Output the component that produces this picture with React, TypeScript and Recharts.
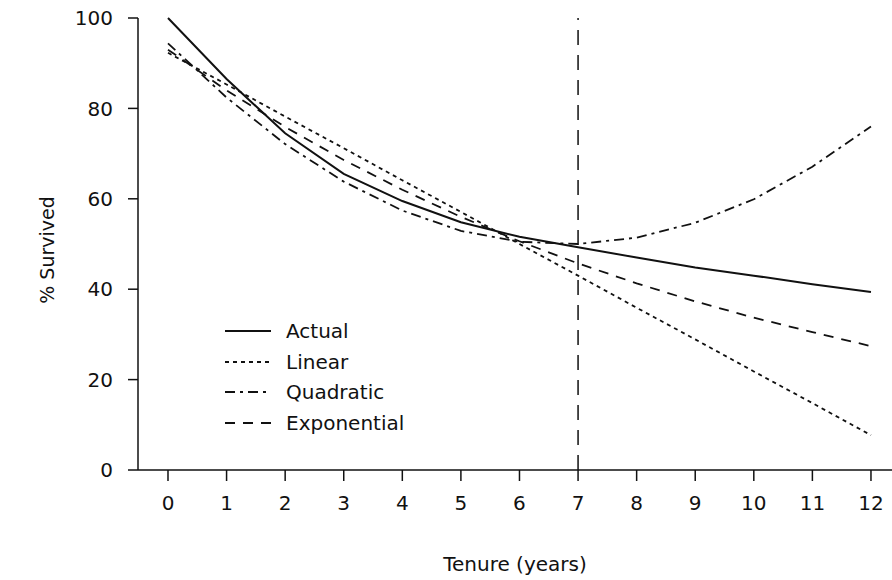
import React from 'react';
import {
  LineChart,
  Line,
  XAxis,
  YAxis,
  ReferenceLine
} from 'recharts';

// Tenure in years (x axis)
const years = [0, 1, 2, 3, 4, 5, 6, 7, 8, 9, 10, 11, 12];

// % survived
const actual = [100, 86.5, 74.5, 65.5, 59.5, 54.8, 51.6, 49.3, 47.0, 44.8, 43.0, 41.1, 39.4];
const linear = [92.3, 85.3, 78.2, 71.2, 64.1, 57.1, 50.0, 43.0, 35.9, 28.9, 21.8, 14.8, 7.7];
const quadratic = [94.4, 82.4, 72.1, 63.8, 57.4, 52.9, 50.5, 50.0, 51.4, 54.7, 59.9, 67.1, 76.0];
const exponential = [93.0, 84.0, 75.9, 68.6, 62.0, 56.0, 50.6, 45.7, 41.3, 37.3, 33.7, 30.5, 27.4];

const yTicks = [0, 20, 40, 60, 80, 100];
const cutoffYear = 7;

const series = [
  { key: 'actual', name: 'Actual', dash: undefined as string | undefined },
  { key: 'linear', name: 'Linear', dash: '4 4' },
  { key: 'quadratic', name: 'Quadratic', dash: '10 5 3 5' },
  { key: 'exponential', name: 'Exponential', dash: '10 8' }
];

const chartData = years.map((year, i) => ({
  year,
  actual: actual[i],
  linear: linear[i],
  quadratic: quadratic[i],
  exponential: exponential[i]
}));

const FONT = '"DejaVu Sans", sans-serif';
const INK = '#111';

// legend drawn as plain html over the plot so recharts doesn't reserve space for it
const SeriesLegend = () => (
  <div
    style={{
      position: 'absolute',
      left: 225,
      top: 316,
      fontFamily: FONT,
      fontSize: 20,
      color: INK
    }}
  >
    {series.map(s => (
      <div key={s.key} style={{ display: 'flex', alignItems: 'center', height: 30.5 }}>
        <svg width={46} height={10} style={{ marginRight: 15 }}>
          <line x1={0} y1={5} x2={46} y2={5} stroke={INK} strokeWidth={1.8} strokeDasharray={s.dash} />
        </svg>
        <span>{s.name}</span>
      </div>
    ))}
  </div>
);

const YLabel = (props: any) => {
  const { viewBox } = props;
  const cx = viewBox.x - 11;
  const cy = viewBox.y + viewBox.height / 2 + 6;
  return (
    <text
      x={cx}
      y={cy}
      transform={`rotate(-90, ${cx}, ${cy})`}
      textAnchor="middle"
      dominantBaseline="central"
      fontFamily={FONT}
      fontSize={19}
      fill={INK}
    >
      % Survived
    </text>
  );
};

export default function App() {
  return (
    <div style={{ position: 'absolute', left: 0, top: 0, width: 892, height: 580, background: '#fff' }}>
      <LineChart
        width={892}
        height={580}
        data={chartData}
        margin={{ top: 18, right: 0, bottom: 50, left: 58 }}
      >
        <XAxis
          type="number"
          dataKey="year"
          domain={[-0.512, 12.359]}
          allowDataOverflow
          ticks={years}
          interval={0}
          height={60}
          stroke={INK}
          strokeWidth={1.5}
          tickSize={11}
          tickMargin={15}
          tick={{ fill: INK, fontSize: 20, fontFamily: FONT }}
          label={{
            value: 'Tenure (years)',
            position: 'bottom',
            offset: 27,
            fill: INK,
            fontSize: 20,
            fontFamily: FONT
          }}
        />
        <YAxis
          type="number"
          domain={[0, 100]}
          ticks={yTicks}
          width={80}
          stroke={INK}
          strokeWidth={1.5}
          tickSize={10}
          tickMargin={15}
          tick={{ fill: INK, fontSize: 20, fontFamily: FONT }}
          label={<YLabel />}
        />
        <ReferenceLine
          x={cutoffYear}
          stroke={INK}
          strokeWidth={1.5}
          strokeDasharray="15 10"
        />
        {series.map(s => (
          <Line
            key={s.key}
            type="linear"
            dataKey={s.key}
            name={s.name}
            stroke={INK}
            strokeWidth={s.key === 'actual' ? 2 : 1.8}
            strokeDasharray={s.dash}
            dot={false}
            isAnimationActive={false}
          />
        ))}
      </LineChart>
      <SeriesLegend />
    </div>
  );
}
